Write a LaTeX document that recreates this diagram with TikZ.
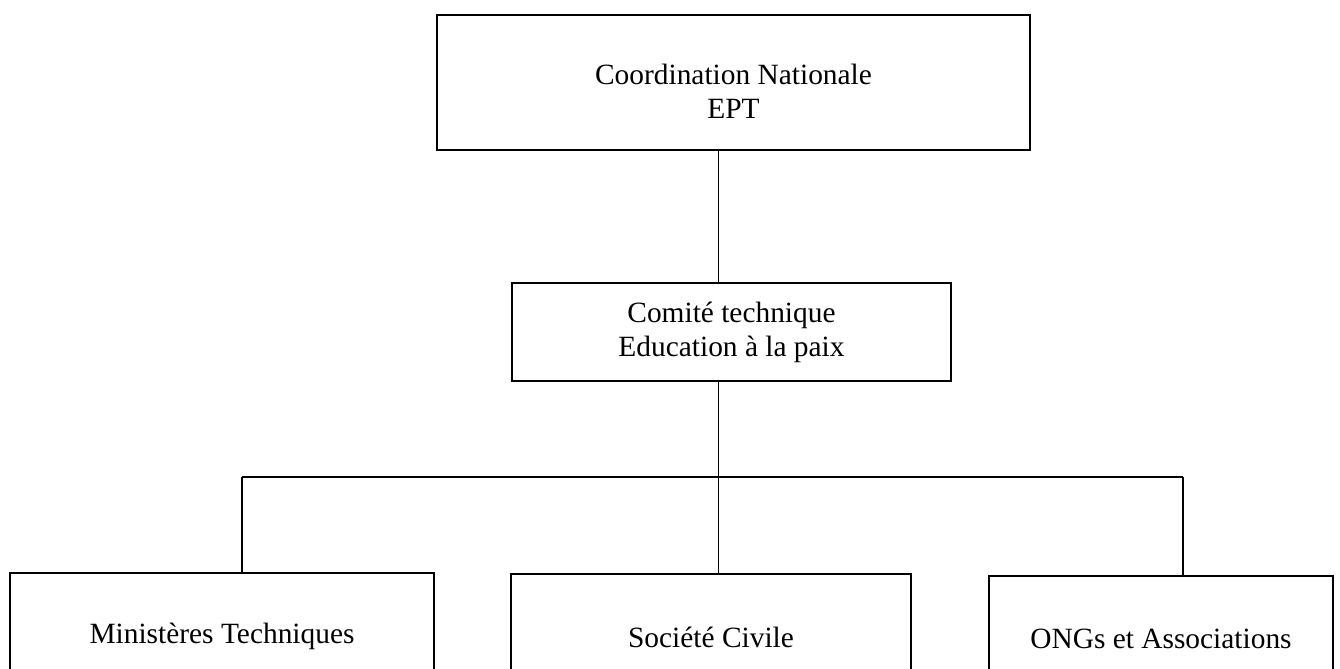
\documentclass[tikz,border=0pt]{standalone}
\usepackage{fontspec}
\setmainfont{Liberation Serif}
\begin{document}
\begin{tikzpicture}[x=0.5pt,y=-0.5pt,
  box/.style={draw=black, line width=0.9pt, rectangle, inner sep=0pt},
  lbl/.style={align=center, font=\fontsize{14.7}{17}\selectfont, inner sep=0pt},
  conn/.style={draw=black, line width=0.8pt}]
\useasboundingbox (0,0) rectangle (1340,669);
\clip (0,0) rectangle (1340,669);
% boxes (sizes in pt = pixels/2)
\node[box, minimum width=296.5pt, minimum height=67.5pt] (top) at (733.5,82.5) {};
\node[lbl] (toptext) at ([yshift=-4.5pt]top.center) {Coordination Nationale\\EPT};
\node[box, lbl, draw, line width=0.9pt, minimum width=219.5pt, minimum height=49pt] (mid) at (731.5,332) {Comité technique\\Education à la paix};
\node[box, lbl, draw, line width=0.9pt, minimum width=212pt, minimum height=63pt] (left) at (222,636) {Ministères Techniques};
\node[box, lbl, draw, line width=0.9pt, minimum width=200pt, minimum height=63pt] (midb) at (711,637) {Société Civile};
\node[box, lbl, draw, line width=0.9pt, minimum width=172pt, minimum height=63pt] (right) at (1161,639) {ONGs et Associations};
% junction coordinates
\coordinate (j) at (718.5,477);
\coordinate (jl) at (242,477);
\coordinate (jr) at (1183,477);
% connectors
\draw[conn] (top.south -| j) -- (mid.north -| j);
\draw[conn] (mid.south -| j) -- (j);
\draw[conn] (jl) -- (jr);
\draw[conn] (jl) -- (jl |- left.north);
\draw[conn] (j) -- (j |- midb.north);
\draw[conn] (jr) -- (jr |- right.north);
\end{tikzpicture}
\end{document}
